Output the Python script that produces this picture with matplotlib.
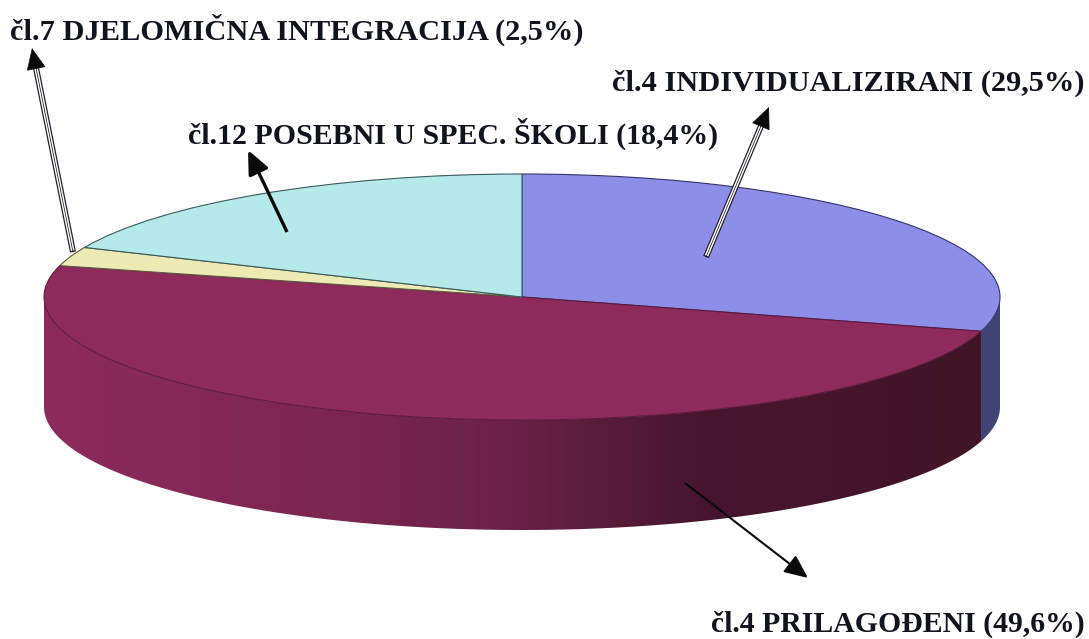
import numpy as np
import matplotlib
matplotlib.use("Agg")
import matplotlib.pyplot as plt
from matplotlib.colors import LinearSegmentedColormap
from matplotlib.patches import Wedge, Polygon
from matplotlib.transforms import Affine2D

# Udjeli po vrsti programa, u smjeru kazaljke od vrha
labels = ['čl.4 INDIVIDUALIZIRANI (29,5%)', 'čl.4 PRILAGOĐENI (49,6%)',
          'čl.7 DJELOMIČNA INTEGRACIJA (2,5%)', 'čl.12 POSEBNI U SPEC. ŠKOLI (18,4%)']
shares = [29.5, 49.6, 2.5, 18.4]
top_colors = ['#8d8ee8', '#8e2b5c', '#eeeab4', '#b6e9ea']
edge_colors = ['#34346a', '#5c1a3c', '#5a5a40', '#3a5a5c']

cx, cy, rx, ry, depth = 522, 297, 478, 123, 110

fig = plt.figure(figsize=(10.89, 6.39), dpi=100)
ax = fig.add_axes([0, 0, 1, 1])
ax.set_xlim(0, 1089)
ax.set_ylim(639, 0)
ax.axis('off')

# kutevi krisaka, y ide prema dolje pa kut raste u smjeru kazaljke
edges = -90 + 360 * np.cumsum([0] + shares) / sum(shares)


def rim(a1, a2):
    t = np.radians(np.linspace(a1, a2, 200))
    return cx + rx * np.cos(t), cy + ry * np.sin(t)


# bocna strana: plavi dio
x, y = rim(0, edges[1])
ax.add_patch(Polygon(np.r_[np.c_[x, y], np.c_[x[::-1], y[::-1] + depth]],
                     fc='#3f4474', ec='none', zorder=1))

# bocna strana: ljubicasti dio s prijelazom
x, y = rim(edges[1], 180)
side = Polygon(np.r_[np.c_[x, y], np.c_[x[::-1], y[::-1] + depth]], fc='none', ec='none', zorder=2)
ax.add_patch(side)
cmap = LinearSegmentedColormap.from_list('side', [(0, '#8e2b5c'), (0.3, '#7c2652'), (0.5, '#6a2147'),
                                                   (0.7, '#47162e'), (1, '#421428')])
img = ax.imshow(np.linspace(0, 1, 256)[None, :], cmap=cmap, extent=(44, 981, 535, 290),
                aspect='auto', zorder=2)
img.set_clip_path(side)
ax.set_xlim(0, 1089)
ax.set_ylim(639, 0)

# gornja ploha
ellipse = Affine2D().scale(rx, ry).translate(cx, cy) + ax.transData
for a1, a2, fc, ec in zip(edges[:-1], edges[1:], top_colors, edge_colors):
    ax.add_patch(Wedge((0, 0), 1, a1, a2, fc=fc, ec=ec, lw=0.8, transform=ellipse, zorder=3))


def arrow(tail, tip, double=False, lw=2):
    head = dict(arrowstyle='-|>,head_length=0.9,head_width=0.4', color='#0a0a0a',
                shrinkA=0, shrinkB=0, mutation_scale=16)
    if double:
        ax.annotate('', xy=tip, xytext=tail, zorder=6, arrowprops=dict(head, lw=0.5))
        ax.annotate('', xy=tip, xytext=tail, zorder=5,
                    arrowprops=dict(arrowstyle='-', lw=4.4, color='#22222e', shrinkA=0, shrinkB=6, capstyle='butt'))
        ax.annotate('', xy=tip, xytext=tail, zorder=5,
                    arrowprops=dict(arrowstyle='-', lw=2.6, color='white', shrinkA=-1, shrinkB=14, capstyle='butt'))
    else:
        ax.annotate('', xy=tip, xytext=tail, zorder=5, arrowprops=dict(head, lw=lw, capstyle='butt'))


arrow((73, 252), (32, 48), double=True)
arrow((287, 232), (248, 150), lw=2.4)
arrow((706, 257), (769, 107), double=True)
arrow((685, 483), (808, 578), lw=1.5)

font = dict(family='Liberation Serif', weight='bold', color='#11141c', va='center', zorder=7)
ax.text(10, 30, labels[2], size=21.85, **font)
ax.text(188, 134, labels[3], size=21.55, **font)
ax.text(612, 83, labels[0], size=21.85, **font)
ax.text(711, 624, labels[1], size=21.4, **font)

fig.savefig('out.png', dpi=100)
